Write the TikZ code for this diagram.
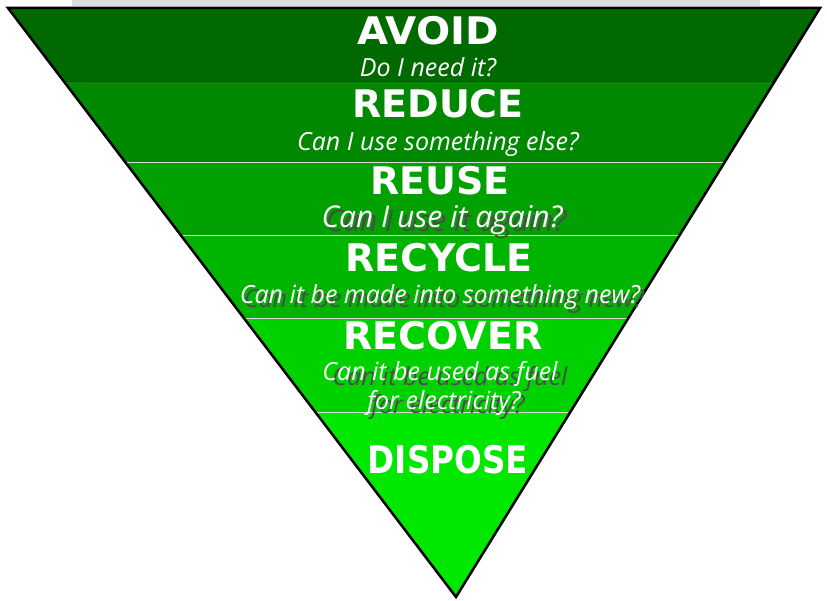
\documentclass[tikz,border=0pt]{standalone}
\usepackage{fontspec}
\setmainfont{DejaVu Sans}
\newfontfamily\askfont{Open Sans}
\definecolor{avoidgreen}{HTML}{006A00}
\definecolor{reducegreen}{HTML}{008900}
\definecolor{reusegreen}{HTML}{00A100}
\definecolor{recyclegreen}{HTML}{00B500}
\definecolor{recovergreen}{HTML}{00D200}
\definecolor{disposegreen}{HTML}{00E800}
\definecolor{stripgray}{HTML}{DCDCE0}

\begin{document}
\begin{tikzpicture}[x=1pt,y=-1pt,
        stage/.style={font=\bfseries\fontsize{38}{38}\selectfont,
            text=white, anchor=base, inner sep=0pt},
        ask/.style={font=\askfont\itshape\fontsize{25}{25}\selectfont,
            text=white, anchor=base, inner sep=0pt},
        askshadow/.style={ask, text=black!70},
        seam/.style={white!70!gray, line width=0.8pt}
        ]
        \useasboundingbox (0,0) rectangle (827,601);
        % grey strip behind the top edge
        \fill[stripgray] (72,0) rectangle (760,6);
        % corners of the funnel
        \coordinate (tl) at (8,8);
        \coordinate (tr) at (820,8);
        \coordinate (apex) at (456,597);
        \begin{scope}
            \clip (tl) -- (tr) -- (apex) -- cycle;
            \fill[avoidgreen] (0,8) rectangle (827,81);
            \fill[reducegreen] (0,81) rectangle (827,162);
            \fill[reusegreen] (0,162) rectangle (827,235);
            \fill[recyclegreen] (0,235) rectangle (827,318);
            \fill[recovergreen] (0,318) rectangle (827,412);
            \fill[disposegreen] (0,412) rectangle (827,601);
            % seams between the bands
            \draw[avoidgreen!80!black, line width=0.8pt] (0,81) -- ++(827,0);
            \draw[seam] (0,162) -- ++(827,0);
            \draw[seam] (0,235) -- ++(827,0);
            \draw[seam] (0,318) -- ++(827,0);
            \draw[seam] (0,412) -- ++(827,0);
        \end{scope}
        \draw[line width=2.5pt, line join=miter] (tl) -- (tr) -- (apex) -- cycle
        ;
        %% the stages and their questions
        \node[stage, xscale=1.06] (avoid) at (428,45) {AVOID};
        \node[ask] (avoidq) at (428,77) {Do I need it?};
        \node[stage] (reduce) at (438,118) {REDUCE};
        \node[ask] (reduceq) at (438,151) {Can I use something else?};
        \node[stage] (reuse) at (440,195) {REUSE};
        \node[askshadow, font=\askfont\itshape\fontsize{30}{30}\selectfont] (reuseqs) at (446,232) {Can I use it again?};
        \node[ask, font=\askfont\itshape\fontsize{30}{30}\selectfont] (reuseq) at (442,228) {Can I use it again?};
        \node[stage] (recycle) at (439,272) {RECYCLE};
        \node[askshadow] (recycleqs) at (444,308) {Can it be made into something new?};
        \node[ask] (recycleq) at (440,304) {Can it be made into something new?};
        \node[stage] (recover) at (443,349) {RECOVER};
        \node[askshadow] (recoverqs) at (450,385) {Can it be used as fuel};
        \node[ask] (recoverq) at (440,381) {Can it be used as fuel};
        \node[askshadow] (recoverqs2) at (448,413) {for electricity?};
        \node[ask] (recoverq2) at (444,409) {for electricity?};
        \node[stage, xscale=0.86] (dispose) at (448,473) {DISPOSE};
    \end{tikzpicture}
\end{document}
